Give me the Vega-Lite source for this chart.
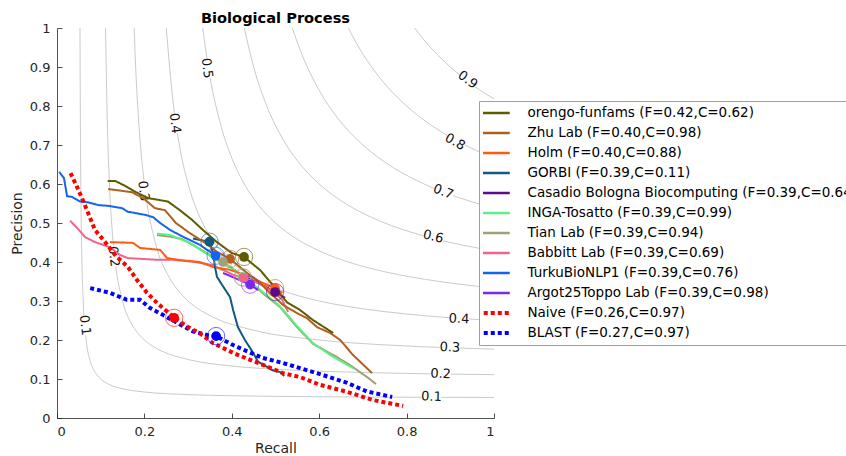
{
"$schema":"https://vega.github.io/schema/vega-lite/v6.json",
"autosize":{"type":"none"},
"width":437,"height":390,
"padding":{"left":57,"top":28,"right":352,"bottom":38},
"background":"#ffffff",
"config":{"font":"DejaVu Sans","view":{"stroke":null},
 "axis":{"grid":false,"domainColor":"#262626","tickColor":"#262626","labelColor":"#262626","titleColor":"#262626","labelFontSize":13,"titleFontSize":14,"titleFontWeight":"normal","labelPadding":12,"domainWidth":0.8,"tickWidth":0.8,"labelOverlap":false}},
"title":{"text":"Biological Process","fontSize":14.6,"fontWeight":"bold","color":"#000000","offset":-4},
"datasets":{
 "iso":[
  {"F":"0.1","R":[0.0526,0.0533,0.0545,0.0571,0.06,0.0667,0.075,0.0857,0.0917,0.1,0.11,0.12,0.15,0.2,0.3,0.4,0.6,0.8,1],"P":[1,0.8,0.6,0.4,0.3,0.2,0.15,0.12,0.11,0.1,0.0917,0.0857,0.075,0.0667,0.06,0.0571,0.0545,0.0533,0.0526]},
  {"F":"0.2","R":[0.1111,0.1143,0.12,0.125,0.1333,0.15,0.1714,0.1833,0.2,0.22,0.24,0.3,0.4,0.5,0.6,0.8,1],"P":[1,0.8,0.6,0.5,0.4,0.3,0.24,0.22,0.2,0.1833,0.1714,0.15,0.1333,0.125,0.12,0.1143,0.1111]},
  {"F":"0.3","R":[0.1765,0.18,0.1875,0.2,0.225,0.2571,0.275,0.3,0.33,0.36,0.45,0.6,0.75,0.9,1],"P":[1,0.9,0.75,0.6,0.45,0.36,0.33,0.3,0.275,0.2571,0.225,0.2,0.1875,0.18,0.1765]},
  {"F":"0.4","R":[0.25,0.2667,0.28,0.3,0.3176,0.3429,0.3667,0.4,0.44,0.48,0.54,0.6,0.7,0.8,1],"P":[1,0.8,0.7,0.6,0.54,0.48,0.44,0.4,0.3667,0.3429,0.3176,0.3,0.28,0.2667,0.25]},
  {"F":"0.5","R":[0.3333,0.35,0.375,0.3971,0.4286,0.4583,0.5,0.55,0.6,0.675,0.75,0.875,1],"P":[1,0.875,0.75,0.675,0.6,0.55,0.5,0.4583,0.4286,0.3971,0.375,0.35,0.3333]},
  {"F":"0.6","R":[0.4286,0.45,0.4765,0.5143,0.55,0.6,0.66,0.72,0.81,0.9,1],"P":[1,0.9,0.81,0.72,0.66,0.6,0.55,0.5143,0.4765,0.45,0.4286]},
  {"F":"0.7","R":[0.5385,0.5559,0.6,0.6417,0.6682,0.7,0.735,0.77,0.84,0.945,1],"P":[1,0.945,0.84,0.77,0.735,0.7,0.6682,0.6417,0.6,0.5559,0.5385]},
  {"F":"0.8","R":[0.6667,0.6857,0.7333,0.7636,0.8,0.84,0.88,0.96,1],"P":[1,0.96,0.88,0.84,0.8,0.7636,0.7333,0.6857,0.6667]},
  {"F":"0.9","R":[0.8182,0.8379,0.8591,0.8827,0.9,0.918,0.945,0.972,1],"P":[1,0.972,0.945,0.918,0.9,0.8827,0.8591,0.8379,0.8182]}
 ],
 "labs":[
  {"t":"0.1","g":"L","R":0.064,"P":0.238},
  {"t":"0.2","g":"L","R":0.130,"P":0.414},
  {"t":"0.3","g":"L","R":0.198,"P":0.582},
  {"t":"0.4","g":"L","R":0.270,"P":0.756},
  {"t":"0.5","g":"L","R":0.343,"P":0.897},
  {"t":"0.1","g":"B","R":0.857,"P":0.0546},
  {"t":"0.2","g":"B","R":0.878,"P":0.113},
  {"t":"0.3","g":"B","R":0.899,"P":0.181},
  {"t":"0.4","g":"B","R":0.920,"P":0.254},
  {"t":"0.6","g":"U6","R":0.861,"P":0.465},
  {"t":"0.7","g":"U7","R":0.884,"P":0.580},
  {"t":"0.8","g":"U8","R":0.911,"P":0.708},
  {"t":"0.9","g":"U9","R":0.940,"P":0.867}
 ],
 "series":[
  {"name":"Casadio Bologna Biocomputing (F=0.39,C=0.64)","R":[0.419,0.465,0.499,0.522],"P":[0.367,0.344,0.323,0.308]},
  {"name":"Tian Lab (F=0.39,C=0.94)","R":[0.229,0.259,0.286,0.316,0.350,0.380,0.407,0.442,0.476,0.510,0.549,0.586,0.641,0.670,0.712,0.730],"P":[0.469,0.465,0.459,0.441,0.418,0.400,0.379,0.349,0.315,0.285,0.233,0.190,0.156,0.136,0.103,0.087]},
  {"name":"INGA-Tosatto (F=0.39,C=0.99)","R":[0.229,0.259,0.304,0.334,0.366,0.396,0.426,0.471,0.510,0.549,0.586,0.630,0.677],"P":[0.473,0.469,0.449,0.427,0.405,0.388,0.362,0.323,0.287,0.236,0.192,0.158,0.128]},
  {"name":"Argot25Toppo Lab (F=0.39,C=0.98)","R":[0.380,0.407,0.442,0.460],"P":[0.372,0.359,0.342,0.328]},
  {"name":"Babbitt Lab (F=0.39,C=0.69)","R":[0.030,0.048,0.064,0.087,0.121,0.144,0.162,0.224,0.263,0.316,0.357,0.403,0.426,0.465,0.499,0.515,0.529],"P":[0.506,0.485,0.464,0.451,0.438,0.418,0.410,0.406,0.406,0.400,0.392,0.367,0.360,0.344,0.321,0.303,0.272]},
  {"name":"Holm (F=0.40,C=0.88)","R":[0.121,0.174,0.190,0.236,0.252,0.281,0.327,0.357,0.396,0.442,0.471,0.499,0.515],"P":[0.451,0.449,0.436,0.431,0.410,0.405,0.400,0.387,0.380,0.362,0.346,0.333,0.321]},
  {"name":"GORBI (F=0.39,C=0.11)","R":[0.311,0.349,0.352,0.357,0.362,0.366,0.378,0.396,0.403,0.414,0.430,0.449,0.460,0.481,0.492,0.510,0.520],"P":[0.460,0.452,0.441,0.423,0.385,0.362,0.341,0.310,0.277,0.233,0.200,0.167,0.144,0.131,0.123,0.118,0.108]},
  {"name":"TurkuBioNLP1 (F=0.39,C=0.76)","R":[0.005,0.016,0.023,0.034,0.053,0.071,0.094,0.117,0.149,0.162,0.201,0.220,0.236,0.259,0.288,0.327,0.363],"P":[0.631,0.615,0.569,0.567,0.555,0.553,0.546,0.544,0.538,0.529,0.521,0.515,0.500,0.482,0.465,0.444,0.416]},
  {"name":"Zhu Lab (F=0.40,C=0.98)","R":[0.117,0.172,0.183,0.197,0.224,0.247,0.272,0.304,0.339,0.366,0.396,0.435,0.465,0.487,0.517,0.549,0.572,0.595,0.625,0.648,0.677,0.721],"P":[0.587,0.579,0.572,0.564,0.538,0.533,0.500,0.474,0.449,0.426,0.408,0.372,0.346,0.321,0.290,0.269,0.256,0.233,0.218,0.200,0.162,0.115]},
  {"name":"orengo-funfams (F=0.42,C=0.62)","R":[0.116,0.133,0.156,0.181,0.208,0.254,0.281,0.309,0.334,0.366,0.400,0.428,0.465,0.494,0.526,0.556,0.586,0.632],"P":[0.608,0.608,0.595,0.579,0.564,0.555,0.533,0.508,0.482,0.451,0.423,0.413,0.379,0.341,0.297,0.277,0.251,0.218]}
 ],
 "dotted":[
  {"name":"BLAST (F=0.27,C=0.97)","R":[0.076,0.121,0.160,0.190,0.213,0.243,0.275,0.311,0.343,0.364,0.403,0.435,0.471,0.517,0.556,0.609,0.664,0.709,0.767],"P":[0.333,0.321,0.303,0.303,0.282,0.264,0.244,0.222,0.213,0.210,0.187,0.171,0.154,0.141,0.128,0.110,0.090,0.068,0.054]},
  {"name":"Naive (F=0.26,C=0.97)","R":[0.031,0.046,0.059,0.071,0.087,0.108,0.135,0.162,0.183,0.206,0.229,0.252,0.268,0.297,0.327,0.357,0.403,0.442,0.481,0.517,0.556,0.602,0.664,0.723,0.792],"P":[0.628,0.592,0.559,0.526,0.482,0.454,0.415,0.388,0.354,0.321,0.295,0.273,0.257,0.235,0.217,0.192,0.167,0.149,0.132,0.115,0.105,0.085,0.067,0.046,0.031]}
 ],
 "marks":[
  {"name":"orengo-funfams (F=0.42,C=0.62)","R":0.428,"P":0.413},
  {"name":"Zhu Lab (F=0.40,C=0.98)","R":0.396,"P":0.408},
  {"name":"Holm (F=0.40,C=0.88)","R":0.499,"P":0.333},
  {"name":"GORBI (F=0.39,C=0.11)","R":0.349,"P":0.452},
  {"name":"Casadio Bologna Biocomputing (F=0.39,C=0.64)","R":0.499,"P":0.323},
  {"name":"INGA-Tosatto (F=0.39,C=0.99)","R":0.424,"P":0.362},
  {"name":"Tian Lab (F=0.39,C=0.94)","R":0.380,"P":0.400},
  {"name":"Babbitt Lab (F=0.39,C=0.69)","R":0.426,"P":0.360},
  {"name":"TurkuBioNLP1 (F=0.39,C=0.76)","R":0.363,"P":0.416},
  {"name":"Argot25Toppo Lab (F=0.39,C=0.98)","R":0.442,"P":0.342},
  {"name":"Naive (F=0.26,C=0.97)","R":0.268,"P":0.257},
  {"name":"BLAST (F=0.27,C=0.97)","R":0.364,"P":0.210}
 ]
},
"layer":[
 {"data":{"name":"iso"},"transform":[{"flatten":["R","P"]}],
  "mark":{"type":"line","interpolate":"monotone","color":"#bdbdbd","strokeWidth":0.8,"clip":true},
  "encoding":{
   "x":{"field":"R","type":"quantitative","scale":{"domain":[0,1],"nice":false,"zero":false},"axis":{"title":"Recall","values":[0,0.2,0.4,0.6,0.8,1],"format":"~g","titlePadding":3,"tickSize":-5,"labelOverlap":false}},
   "y":{"field":"P","type":"quantitative","scale":{"domain":[0,1],"nice":false,"zero":false},"axis":{"title":"Precision","tickCount":10,"format":"~g","titlePadding":5,"tickSize":-5,"labelOverlap":false}},
   "detail":{"field":"F","type":"nominal"}}},
 {"data":{"name":"labs"},
  "mark":{"type":"point","shape":"circle","filled":true,"color":"#ffffff","opacity":1,"size":420,"strokeWidth":0},
  "encoding":{"x":{"field":"R","type":"quantitative"},"y":{"field":"P","type":"quantitative"}}},
 {"data":{"name":"labs"},"transform":[{"filter":{"field":"g","equal":"L"}}],
  "mark":{"type":"text","angle":83,"fontSize":13,"color":"#111111","align":"center","baseline":"middle"},
  "encoding":{"x":{"field":"R","type":"quantitative"},"y":{"field":"P","type":"quantitative"},"text":{"field":"t","type":"nominal"}}},
 {"data":{"name":"labs"},"transform":[{"filter":{"field":"g","equal":"B"}}],
  "mark":{"type":"text","angle":2,"fontSize":13,"color":"#111111","align":"center","baseline":"middle"},
  "encoding":{"x":{"field":"R","type":"quantitative"},"y":{"field":"P","type":"quantitative"},"text":{"field":"t","type":"nominal"}}},
 {"data":{"name":"labs"},"transform":[{"filter":{"field":"g","equal":"U6"}}],
  "mark":{"type":"text","angle":14,"fontSize":13,"color":"#111111","align":"center","baseline":"middle"},
  "encoding":{"x":{"field":"R","type":"quantitative"},"y":{"field":"P","type":"quantitative"},"text":{"field":"t","type":"nominal"}}},
 {"data":{"name":"labs"},"transform":[{"filter":{"field":"g","equal":"U7"}}],
  "mark":{"type":"text","angle":21,"fontSize":13,"color":"#111111","align":"center","baseline":"middle"},
  "encoding":{"x":{"field":"R","type":"quantitative"},"y":{"field":"P","type":"quantitative"},"text":{"field":"t","type":"nominal"}}},
 {"data":{"name":"labs"},"transform":[{"filter":{"field":"g","equal":"U8"}}],
  "mark":{"type":"text","angle":29,"fontSize":13,"color":"#111111","align":"center","baseline":"middle"},
  "encoding":{"x":{"field":"R","type":"quantitative"},"y":{"field":"P","type":"quantitative"},"text":{"field":"t","type":"nominal"}}},
 {"data":{"name":"labs"},"transform":[{"filter":{"field":"g","equal":"U9"}}],
  "mark":{"type":"text","angle":37,"fontSize":13,"color":"#111111","align":"center","baseline":"middle"},
  "encoding":{"x":{"field":"R","type":"quantitative"},"y":{"field":"P","type":"quantitative"},"text":{"field":"t","type":"nominal"}}},
 {"data":{"name":"series"},"transform":[{"flatten":["R","P"]}],
  "mark":{"type":"line","strokeCap":"butt","strokeWidth":2,"clip":true},
  "encoding":{
   "x":{"field":"R","type":"quantitative"},
   "y":{"field":"P","type":"quantitative"},
   "color":{"field":"name","type":"nominal",
     "scale":{"domain":["orengo-funfams (F=0.42,C=0.62)","Zhu Lab (F=0.40,C=0.98)","Holm (F=0.40,C=0.88)","GORBI (F=0.39,C=0.11)","Casadio Bologna Biocomputing (F=0.39,C=0.64)","INGA-Tosatto (F=0.39,C=0.99)","Tian Lab (F=0.39,C=0.94)","Babbitt Lab (F=0.39,C=0.69)","TurkuBioNLP1 (F=0.39,C=0.76)","Argot25Toppo Lab (F=0.39,C=0.98)","Naive (F=0.26,C=0.97)","BLAST (F=0.27,C=0.97)"],
              "range":["#5c5c00","#b0601e","#ff5a14","#0e5a80","#5a0a8c","#5af082","#a0a07a","#f0648c","#1464f0","#7828f0","#ff0000","#0000ff"]},
     "legend":{"orient":"none","legendX":422,"legendY":73,"title":null,"symbolType":"stroke","symbolSize":1600,"symbolStrokeWidth":2.5,"clipHeight":16,"rowPadding":4,"padding":4,"labelOffset":31,"labelFontSize":13.5,"labelFont":"DejaVu Sans","labelColor":"#000000","labelLimit":2000,"fillColor":"#ffffff","strokeColor":"#a0a0a0",
       "encode":{"symbols":{"update":{"strokeWidth":{"signal":"datum.index >= 10 ? 4 : 2.5"}}}}}},
   "strokeDash":{"field":"name","type":"nominal",
     "scale":{"domain":["orengo-funfams (F=0.42,C=0.62)","Zhu Lab (F=0.40,C=0.98)","Holm (F=0.40,C=0.88)","GORBI (F=0.39,C=0.11)","Casadio Bologna Biocomputing (F=0.39,C=0.64)","INGA-Tosatto (F=0.39,C=0.99)","Tian Lab (F=0.39,C=0.94)","Babbitt Lab (F=0.39,C=0.69)","TurkuBioNLP1 (F=0.39,C=0.76)","Argot25Toppo Lab (F=0.39,C=0.98)","Naive (F=0.26,C=0.97)","BLAST (F=0.27,C=0.97)"],
              "range":[[1,0],[1,0],[1,0],[1,0],[1,0],[1,0],[1,0],[1,0],[1,0],[1,0],[4,3],[4,3]]},
     "legend":{"orient":"none","legendX":422,"legendY":73,"title":null,"symbolType":"stroke","symbolSize":1600,"symbolStrokeWidth":2.5,"clipHeight":16,"rowPadding":4,"padding":4,"labelOffset":31,"labelFontSize":13.5,"labelFont":"DejaVu Sans","labelColor":"#000000","labelLimit":2000,"fillColor":"#ffffff","strokeColor":"#a0a0a0",
       "encode":{"symbols":{"update":{"strokeWidth":{"signal":"datum.index >= 10 ? 4 : 2.5"}}}}}}}},
 {"data":{"name":"dotted"},"transform":[{"flatten":["R","P"]}],
  "mark":{"type":"line","strokeCap":"butt","strokeWidth":4,"clip":true},
  "encoding":{
   "x":{"field":"R","type":"quantitative"},
   "y":{"field":"P","type":"quantitative"},
   "color":{"field":"name","type":"nominal","legend":null},
   "strokeDash":{"field":"name","type":"nominal","legend":null}}},
 {"data":{"name":"marks"},
  "mark":{"type":"point","shape":"circle","filled":false,"size":300,"strokeWidth":1,"opacity":0.6},
  "encoding":{"x":{"field":"R","type":"quantitative"},"y":{"field":"P","type":"quantitative"},
   "color":{"field":"name","type":"nominal","legend":null}}},
 {"data":{"name":"marks"},
  "mark":{"type":"point","shape":"circle","filled":true,"size":95,"opacity":1},
  "encoding":{"x":{"field":"R","type":"quantitative"},"y":{"field":"P","type":"quantitative"},
   "color":{"field":"name","type":"nominal","legend":null}}}
]
}
